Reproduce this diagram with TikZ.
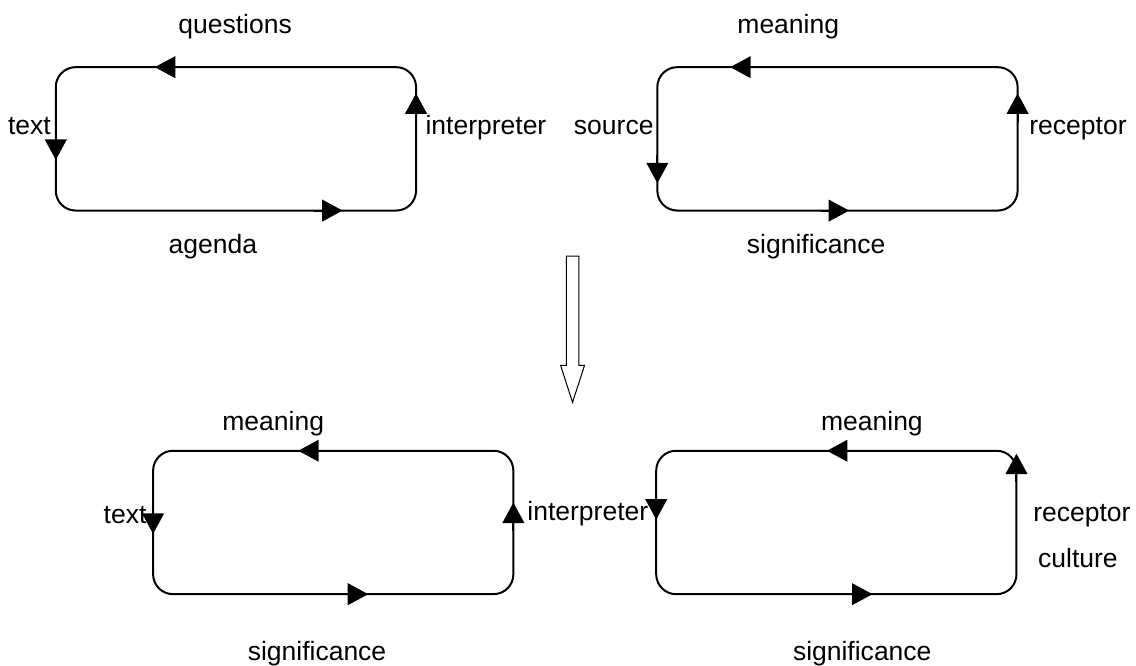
\documentclass[tikz,border=0pt]{standalone}
\usepackage{fontspec}
\setmainfont{Liberation Sans}
\usetikzlibrary{positioning, arrows.meta, calc}
\tikzset{>={Triangle[length=0.36cm, width=0.38cm]}}

\begin{document}
\begin{tikzpicture}

\tikzstyle{ring}=[draw=black, line width=1pt, rounded corners=0.35cm]
\tikzstyle{word}=[inner sep=0pt, font=\fontsize{13.25}{16}\selectfont]
\tikzstyle{hollow}=[draw=black, line width=0.5pt, fill=white]

\useasboundingbox (0, 0) rectangle (19.96, -11.70);

% loops: corner, then arrow tips on top, left, right and bottom side
\foreach \n/\x/\y/\t/\l/\r/\b in {tl/0.98/-1.18/1.74/1.63/0.46/5.04, tr/11.55/-1.18/1.28/2.04/0.46/3.37, bl/2.69/-7.92/2.55/1.46/0.91/3.78, br/11.53/-7.92/3.00/1.21/0.05/3.80}
{
	\coordinate (\n) at (\x, \y);
	\coordinate (\n-se) at ($(\n) + (6.33, -2.52)$);
	\draw [ring] (\n) rectangle (\n-se);
	\coordinate (\n-top) at ($(\n) + (\t, 0)$);
	\coordinate (\n-left) at ($(\n) + (0, -\l)$);
	\coordinate (\n-right) at ($(\n) + (6.33, -\r)$);
	\coordinate (\n-bottom) at ($(\n) + (\b, -2.52)$);
	\coordinate (\n-top-from) at ($(\n-top) + (0.5, 0)$);
	\coordinate (\n-left-from) at ($(\n-left) + (0, 0.5)$);
	\coordinate (\n-right-from) at ($(\n-right) + (0, -0.5)$);
	\coordinate (\n-bottom-from) at ($(\n-bottom) + (-0.5, 0)$);
	\draw [->, line width=1pt] (\n-top-from) -- (\n-top);
	\draw [->, line width=1pt] (\n-left-from) -- (\n-left);
	\draw [->, line width=1pt] (\n-right-from) -- (\n-right);
	\draw [->, line width=1pt] (\n-bottom-from) -- (\n-bottom);
}

% top left
\node [word, anchor=base] (tl-questions) at ($(tl) + (3.15, 0.60)$) {questions};
\node [word, anchor=base] (tl-agenda) at ($(tl) + (2.76, -3.27)$) {agenda};
\node [word, anchor=base east] (tl-text) at ($(tl) + (-0.08, -1.19)$) {text};
\node [word, anchor=base west] (tl-interpreter) at ($(tl) + (6.49, -1.19)$) {interpreter};

% top right
\node [word, anchor=base] (tr-meaning) at ($(tr) + (2.30, 0.60)$) {meaning};
\node [word, anchor=base east] (tr-source) at ($(tr) + (-0.06, -1.19)$) {source};
\node [word, anchor=base west] (tr-receptor) at ($(tr) + (6.53, -1.19)$) {receptor};
\node [word, anchor=base] (tr-significance) at ($(tr) + (2.79, -3.27)$) {significance};

% bottom left
\node [word, anchor=base] (bl-meaning) at ($(bl) + (2.11, 0.36)$) {meaning};
\node [word, anchor=base east] (bl-text) at ($(bl) + (-0.11, -1.27)$) {text};
\node [word, anchor=base west] (bl-interpreter) at ($(bl) + (6.57, -1.22)$) {interpreter};
\node [word, anchor=base] (bl-significance) at ($(bl) + (2.88, -3.68)$) {significance};

% bottom right
\node [word, anchor=base] (br-meaning) at ($(br) + (3.79, 0.36)$) {meaning};
\node [word, anchor=base] (br-receptor) at ($(br) + (7.48, -1.25)$) {receptor};
\node [word, anchor=base] (br-culture) at ($(br) + (7.41, -2.06)$) {culture};
\node [word, anchor=base] (br-significance) at ($(br) + (3.62, -3.68)$) {significance};

% big arrow down
\coordinate (turn) at (10.06, -4.50);
\coordinate (turn-tip) at ($(turn) + (0, -2.57)$);
\draw [hollow] ($(turn) + (-0.11, 0)$) -- ($(turn) + (-0.11, -1.92)$) -- ($(turn) + (-0.21, -1.92)$) -- (turn-tip) -- ($(turn) + (0.21, -1.92)$) -- ($(turn) + (0.11, -1.92)$) -- ($(turn) + (0.11, 0)$) -- cycle;

\end{tikzpicture}
\end{document}
